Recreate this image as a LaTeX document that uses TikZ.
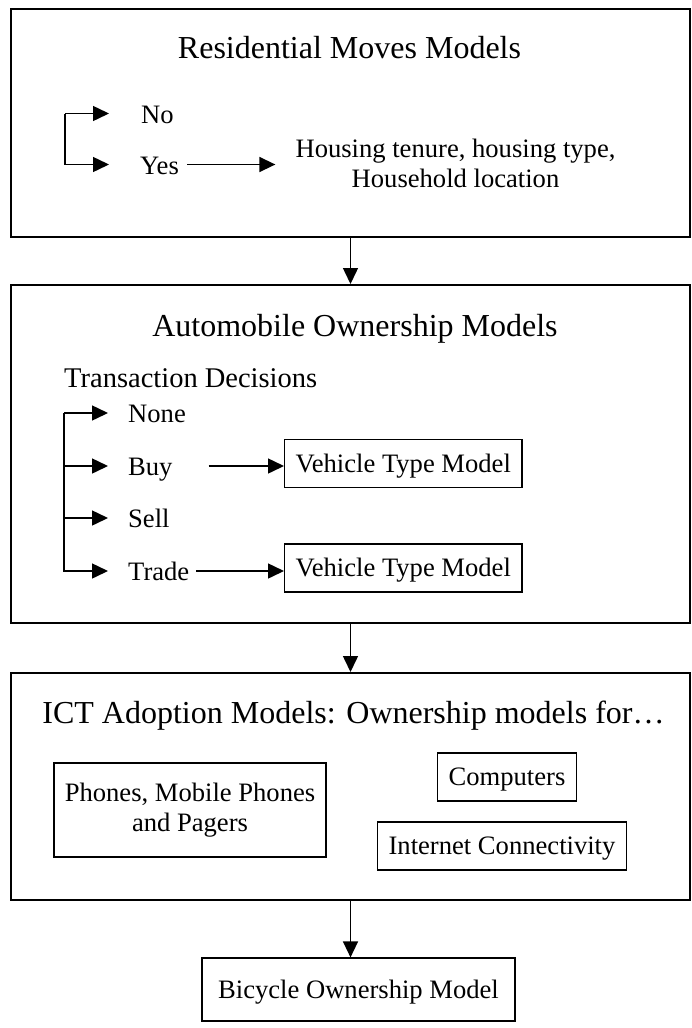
\documentclass[tikz,border=0pt]{standalone}
\usepackage{fontspec}
\setmainfont{Liberation Serif}
\usetikzlibrary{positioning,arrows.meta}

\begin{document}
\begin{tikzpicture}[
    x=1pt, y=-1pt,
    stage/.style={rectangle, draw, line width=2pt, minimum width=679pt, inner sep=0pt},
    heading/.style={anchor=base, inner sep=0pt, font=\fontsize{32}{36}\selectfont},
    choice/.style={anchor=base west, inner sep=0pt, text height=19pt, text depth=0pt, font=\fontsize{26.6}{30}\selectfont},
    tybox/.style={rectangle, draw, line width=1.2pt, minimum height=48pt, inner xsep=11pt, text height=21pt, text depth=4pt, font=\fontsize{26.6}{30}\selectfont},
    widebox/.style={rectangle, draw, line width=1.2pt, align=center, font=\fontsize{26.6}{30}\selectfont},
    arrow/.style={-{Triangle[length=16pt,width=15pt]}, line width=1.5pt}
]
    \useasboundingbox (0,0) rectangle (692,1028);

    % residential moves
    \node[stage, minimum height=228pt] (res) at (350.5,123) {};
    \node[heading] (restitle) at (349.5,58) {Residential Moves Models};
    \node[choice] (no) at (141,123) {No};
    \node[choice] (yes) at (140,174) {Yes};
    \node[inner sep=0pt, align=center, font=\fontsize{26.6}{30}\selectfont] (hous) at (455.5,163) {Housing tenure, housing type,\\Household location};
    \coordinate (resfork) at (65,0);
    \draw[arrow, shorten >=32pt] (resfork |- no.west) -- (no.west);
    \draw[arrow, shorten >=31pt] (resfork |- no.west) |- (yes.west);
    \draw[arrow, shorten <=8pt, shorten >=20pt] (yes.east) -- (yes.east -| hous.west);

    % automobile ownership
    \node[stage, minimum height=338pt] (auto) at (350.5,454) {};
    \node[heading] (autotitle) at (355,336) {Automobile Ownership Models};
    \node[anchor=base west, inner sep=0pt, font=\fontsize{28.5}{32}\selectfont] (trans) at (64,387) {Transaction Decisions};
    \node[choice] (none) at (128,422.5) {None};
    \node[choice] (buy) at (128,475.5) {Buy};
    \node[choice] (sell) at (128,527.5) {Sell};
    \node[choice] (trade) at (128,580.5) {Trade};
    \node[tybox, anchor=west] (veh1) at (284,463.5) {Vehicle Type Model};
    \node[tybox, anchor=west] (veh2) at (284,568) {Vehicle Type Model};
    \coordinate (autofork) at (64,0);
    \draw[arrow, shorten >=20pt] (autofork |- none.west) -- (none.west);
    \draw[arrow, shorten >=20pt] (autofork |- buy.west) -- (buy.west);
    \draw[arrow, shorten >=20pt] (autofork |- sell.west) -- (sell.west);
    \draw[arrow, shorten >=20pt] (autofork |- none.west) |- (trade.west);
    \draw[arrow, shorten <=36pt] (buy.east) -- (buy.east -| veh1.west);
    \draw[arrow, shorten <=7pt] (trade.east) -- (trade.east -| veh2.west);

    % ICT adoption
    \node[stage, minimum height=227pt] (ict) at (350.5,786.5) {};
    \node[heading] (icttitle) at (353.5,723) {ICT Adoption Models: Ownership models for…};
    \node[widebox, minimum width=272pt, minimum height=94pt] (phones) at (190,810) {Phones, Mobile Phones\\and Pagers};
    \node[tybox] (comp) at (507,777) {Computers};
    \node[tybox] (inet) at (502,846) {Internet Connectivity};

    % bicycle ownership
    \node[tybox, minimum width=313pt, minimum height=63pt] (bike) at (358.5,989.5) {Bicycle Ownership Model};

    \draw[arrow] (res) -- (auto);
    \draw[arrow] (auto) -- (ict);
    \draw[arrow] (ict.south) -- (ict.south |- bike.north);
\end{tikzpicture}
\end{document}
